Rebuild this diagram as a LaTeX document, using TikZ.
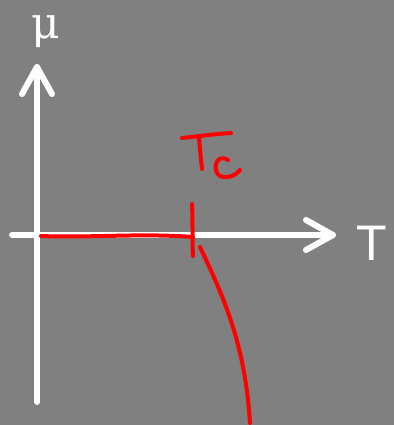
\documentclass[tikz,border=0pt]{standalone}
\usepackage{fontspec}
\setmainfont{Liberation Sans}
\newfontfamily\serifmu{DejaVu Serif}
\begin{document}
\begin{tikzpicture}[x=1pt,y=-1pt,
  axis/.style={white,line width=6pt,line cap=round,line join=round},
  pen/.style={red,line width=4pt,line cap=round,line join=round},
  lbl/.style={white,inner sep=0pt}]
\fill[fill={rgb,255:red,128;green,128;blue,128}] (0,0) rectangle (394,425);
\useasboundingbox (0,0) rectangle (394,425);
% axes
\coordinate (ybot) at (37,402);
\coordinate (ytip) at (37,67);
\coordinate (xl) at (12,235);
\coordinate (xtip) at (333,235);
\draw[axis] (ybot) -- (ytip);
\draw[axis] (22,94) -- (ytip) -- (52,94);
\draw[axis] (xl) -- (xtip);
\draw[axis] (306,220) -- (xtip) -- (306,250);
\node[lbl,font=\serifmu\fontsize{44}{44}\selectfont] (mu) at (46,32) {μ};
\node[lbl,font=\fontsize{50}{50}\selectfont] (T) at (372,243) {T};
% red sketch
\draw[pen] (41,236) .. controls (90,238) and (140,233) .. (193,237);
\draw[pen] (192,204) .. controls (193,225) and (192,240) .. (193,256);
\draw[pen] (200,247) .. controls (225,300) and (245,345) .. (250,423);
\draw[pen] (182,138) .. controls (200,136) and (215,134) .. (231,133);
\draw[pen] (199,138) .. controls (200,150) and (201,160) .. (202,169);
\draw[pen] (228,160) .. controls (215,152) and (212,172) .. (220,176) .. controls (227,179) and (235,176) .. (240,170);
\end{tikzpicture}
\end{document}
